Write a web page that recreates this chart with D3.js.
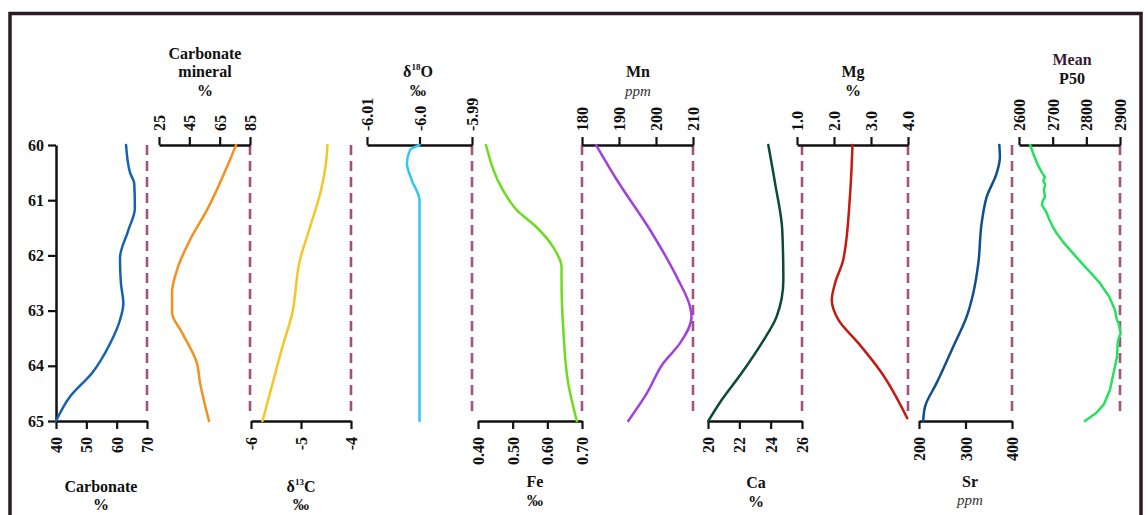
<!DOCTYPE html>
<html>
<head>
<meta charset="utf-8">
<script src="https://cdn.jsdelivr.net/npm/d3@7/dist/d3.min.js"></script>
<style>
    body { margin: 0; background: #fff; }
    svg text { font-family: "Liberation Serif", "Times New Roman", serif; }
</style>
</head>
<body>
<svg id="chart" width="1148" height="515"></svg>
<script>
// --- DATA: [depth, value] ---
const depthTicks = [60, 61, 62, 63, 64, 65];

const carbonate = [[60,63.1],[60.5,64.4],[60.7,65.8],[61.15,66],[61.55,63.8],[62.05,61.1],[62.5,61.4],[62.87,62.2],[63.17,61.1],[63.6,57.8],[64.13,51.9],[64.56,44.6],[65,40]];
const carbMineral = [[60,75.8],[60.4,69.8],[61.18,56.6],[61.72,45.4],[62.26,36.9],[62.68,33.6],[63.04,33.6],[63.4,40.2],[63.95,50],[64.3,52],[65,58]];
const d13C = [[60,-4.47],[60.33,-4.5],[60.82,-4.6],[61.49,-4.82],[62.08,-5.02],[63.11,-5.19],[63.59,-5.35],[64.26,-5.55],[65,-5.77]];
const d18O = [[60,-6.0],[60.09,-6.0018],[60.33,-6.0024],[60.63,-6.0015],[61,-6.0],[62,-6.0],[63,-6.0],[64,-6.0],[65,-6.0]];
const fe = [[60,0.423],[60.82,0.472],[61.18,0.512],[61.49,0.569],[61.85,0.617],[62.21,0.641],[62.45,0.641],[63.35,0.646],[64.31,0.66],[65,0.685]];
const mn = [[60,183.8],[60.63,189.4],[61.54,198.4],[62.39,205.6],[62.93,209.2],[63.11,209.6],[63.59,206.5],[63.95,202],[64.5,197.5],[65,192.5]];
const ca = [[60,23.85],[60.69,24.28],[61.54,24.74],[62.45,24.81],[63.11,24.38],[63.59,23.43],[64.13,22.15],[64.62,20.87],[65,20.02]];
const mg = [[60,2.5],[60.94,2.43],[62.08,2.25],[62.5,2.03],[62.81,1.94],[63.17,2.12],[63.59,2.66],[64.13,3.29],[64.95,3.98]];
const sr = [[60,372.7],[60.22,374],[60.51,367],[60.94,345.6],[61.41,334.8],[62.14,327.6],[62.68,316.8],[63.11,302.5],[63.65,273.8],[64.31,238],[64.74,213],[65,209]];
const p50 = [[60,2633],[60.2,2645],[60.35,2655],[60.5,2668],[60.58,2677],[60.65,2672],[60.72,2678],[60.8,2674],[60.94,2677],[61.02,2670],[61.09,2668],[61.2,2680],[61.35,2690],[61.49,2701],[61.6,2712],[61.75,2730],[61.96,2760],[62.2,2795],[62.35,2818],[62.5,2840],[62.75,2868],[62.99,2885],[63.15,2890],[63.25,2897],[63.41,2902],[63.5,2896],[63.6,2893],[63.84,2891],[64.1,2882],[64.44,2870],[64.7,2852],[64.85,2830],[65,2796]];

// --- TICKS ---
const carbonateTicks = [40, 50, 60, 70];
const carbMineralTicks = [25, 45, 65, 85];
const d13CTicks = [-6, -5, -4];
const d18OTicks = [-6.01, -6.0, -5.99];
const d18OTickLabels = ["-6.01", "-6.0", "-5.99"];
const feTicks = [0.40, 0.50, 0.60, 0.70];
const feTickLabels = ["0.40", "0.50", "0.60", "0.70"];
const mnTicks = [180, 190, 200, 210];
const caTicks = [20, 22, 24, 26];
const mgTicks = [1, 2, 3, 4];
const mgTickLabels = ["1.0", "2.0", "3.0", "4.0"];
const srTicks = [200, 300, 400];
const p50Ticks = [2600, 2700, 2800, 2900];

// --- PANELS (layout) ---
const panels = [
    { data: carbonate,   ticks: carbonateTicks,   domain: [40, 70],        range: [56, 147],   side: 'bottom', color: '#1561b5' },
    { data: carbMineral, ticks: carbMineralTicks, domain: [25, 85],        range: [159, 250],  side: 'top',    color: '#f3901f' },
    { data: d13C,        ticks: d13CTicks,        domain: [-6, -4],        range: [251, 351],  side: 'bottom', color: '#f6c527' },
    { data: d18O,        ticks: d18OTicks,        domain: [-6.01, -5.99],  range: [367, 472],  side: 'top',    color: '#35c6ef', labels: d18OTickLabels },
    { data: fe,          ticks: feTicks,          domain: [0.40, 0.70],    range: [478, 582],  side: 'bottom', color: '#6cdc1e', labels: feTickLabels },
    { data: mn,          ticks: mnTicks,          domain: [180, 210],      range: [582, 693],  side: 'top',    color: '#a23fe0' },
    { data: ca,          ticks: caTicks,          domain: [20, 26],        range: [708, 802],  side: 'bottom', color: '#0b4a36' },
    { data: mg,          ticks: mgTicks,          domain: [1, 4],          range: [797, 908],  side: 'top',    color: '#c41b10', labels: mgTickLabels },
    { data: sr,          ticks: srTicks,          domain: [200, 400],      range: [919, 1012], side: 'bottom', color: '#0f4f8e' },
    { data: p50,         ticks: p50Ticks,         domain: [2600, 2900],    range: [1019, 1120], side: 'top',   color: '#26e05e', curve: d3.curveLinear }
];

const svg = d3.select('#chart');
const topY = 145, botY = 421;
const y = d3.scaleLinear().domain([60, 65]).range([topY, botY]);

// frame
svg.append('rect').attr('x', 10).attr('y', 13.5).attr('width', 1131).attr('height', 540)
    .attr('fill', 'none').attr('stroke', '#2d1824').attr('stroke-width', 3.5);

function styleAxis(g) {
    g.select('.domain').attr('stroke', '#111').attr('stroke-width', 2.5);
    g.selectAll('.tick line').attr('stroke', '#111').attr('stroke-width', 2.2);
    g.selectAll('.tick text').attr('fill', '#111').style('font-size', '16px').style('font-weight', 'bold');
}

// depth axis
const yAxis = svg.append('g').attr('transform', 'translate(56,0)')
    .call(d3.axisLeft(y).tickValues(depthTicks).tickFormat(d => String(d))
        .tickSize(8).tickSizeOuter(0).tickPadding(4));
styleAxis(yAxis);

panels.forEach(p => {
    const x = d3.scaleLinear().domain(p.domain).range(p.range);

    // dashed reference line at the max end
    svg.append('line')
        .attr('x1', x(p.domain[1])).attr('x2', x(p.domain[1]))
        .attr('y1', topY).attr('y2', botY - 4)
        .attr('stroke', '#a5507f').attr('stroke-width', 2.6).attr('stroke-dasharray', '10,6');

    const axis = (p.side === 'top' ? d3.axisTop(x) : d3.axisBottom(x))
        .tickValues(p.ticks).tickSize(8).tickSizeOuter(0)
        .tickFormat((d, i) => p.labels ? p.labels[i] : String(d));
    const g = svg.append('g').attr('transform', `translate(0,${p.side === 'top' ? topY : botY})`).call(axis);
    styleAxis(g);
    if (p.side === 'top') {
        g.selectAll('.tick text').attr('transform', 'rotate(-90)').attr('x', 14).attr('y', 0)
            .attr('dy', '0.35em').style('text-anchor', 'start');
    } else {
        g.selectAll('.tick text').attr('transform', 'rotate(-90)').attr('x', -16).attr('y', 0)
            .attr('dy', '0.35em').style('text-anchor', 'end');
    }

    const line = d3.line().x(d => x(d[1])).y(d => y(d[0])).curve(p.curve || d3.curveMonotoneY);
    svg.append('path').datum(p.data).attr('d', line)
        .attr('fill', 'none').attr('stroke', p.color).attr('stroke-width', 2.5)
        .attr('stroke-linejoin', 'round').attr('stroke-linecap', 'round');
});

// --- TITLES ---
function title(x, lines) {
    lines.forEach(l => {
        const t = svg.append('text').attr('x', x).attr('y', l.y).attr('text-anchor', 'middle')
            .attr('fill', l.fill || '#111')
            .style('font-size', l.italic ? '15px' : '16px')
            .style('font-weight', l.italic ? 'normal' : 'bold')
            .style('font-style', l.italic ? 'italic' : 'normal');
        if (l.sup) {
            t.append('tspan').text(l.pre);
            t.append('tspan').text(l.sup).style('font-size', '9px').attr('dy', -7);
            t.append('tspan').text(l.post).attr('dy', 7);
        } else {
            t.text(l.t);
        }
        if (l.italic) t.attr('fill', '#333');
    });
}

title(205, [{ t: 'Carbonate', y: 59 }, { t: 'mineral', y: 77 }, { t: '%', y: 96 }]);
title(418, [{ pre: 'δ', sup: '18', post: 'O', y: 77 }, { t: '‰', y: 96 }]);
title(638, [{ t: 'Mn', y: 77 }, { t: 'ppm', y: 96, italic: true }]);
title(853, [{ t: 'Mg', y: 77 }, { t: '%', y: 96 }]);
title(1072, [{ t: 'Mean', y: 65, fill: '#3a1a33' }, { t: 'P50', y: 84 }]);

title(101, [{ t: 'Carbonate', y: 492 }, { t: '%', y: 510 }]);
title(301, [{ pre: 'δ', sup: '13', post: 'C', y: 492 }, { t: '‰', y: 510 }]);
title(535, [{ t: 'Fe', y: 487 }, { t: '‰', y: 506 }]);
title(756, [{ t: 'Ca', y: 488 }, { t: '%', y: 507 }]);
title(970, [{ t: 'Sr', y: 487 }, { t: 'ppm', y: 505, italic: true }]);
</script>
</body>
</html>
